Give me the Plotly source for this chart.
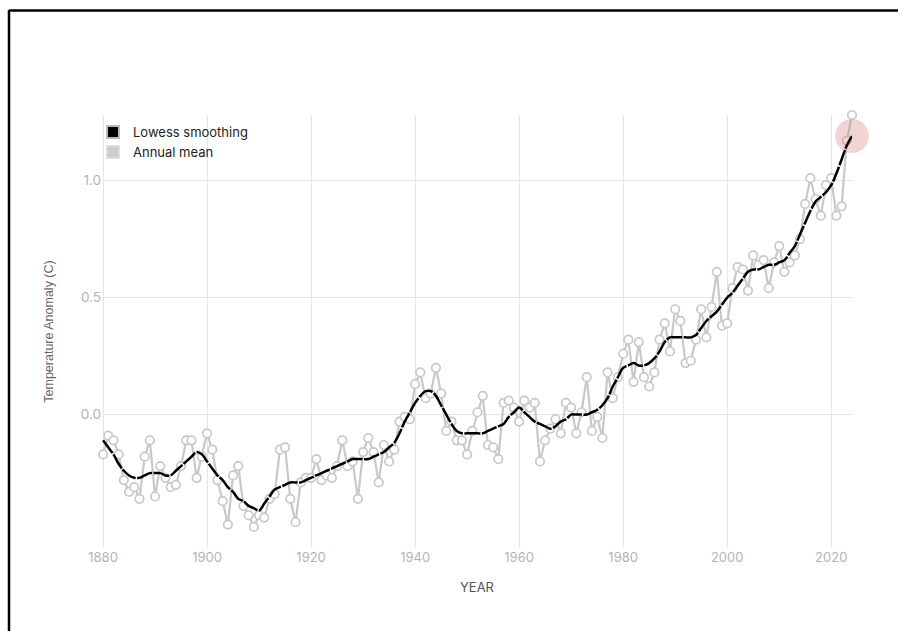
import plotly.graph_objects as go

# Global land-ocean temperature index (anomaly vs 1951-1980, deg C)
years = list(range(1880, 2025))

annual_mean = [
    -0.17, -0.09, -0.11, -0.17, -0.28, -0.33, -0.31, -0.36, -0.18, -0.11,
    -0.35, -0.22, -0.27, -0.31, -0.30, -0.22, -0.11, -0.11, -0.27, -0.18,
    -0.08, -0.15, -0.28, -0.37, -0.47, -0.26, -0.22, -0.39, -0.43, -0.48,
    -0.43, -0.44, -0.36, -0.34, -0.15, -0.14, -0.36, -0.46, -0.29, -0.27,
    -0.27, -0.19, -0.28, -0.26, -0.27, -0.22, -0.11, -0.22, -0.20, -0.36,
    -0.16, -0.10, -0.16, -0.29, -0.13, -0.20, -0.15, -0.03, -0.01, -0.02,
    0.13, 0.18, 0.07, 0.09, 0.20, 0.09, -0.07, -0.03, -0.11, -0.11,
    -0.17, -0.07, 0.01, 0.08, -0.13, -0.14, -0.19, 0.05, 0.06, 0.03,
    -0.03, 0.06, 0.03, 0.05, -0.20, -0.11, -0.06, -0.02, -0.08, 0.05,
    0.03, -0.08, 0.01, 0.16, -0.07, -0.01, -0.10, 0.18, 0.07, 0.16,
    0.26, 0.32, 0.14, 0.31, 0.16, 0.12, 0.18, 0.32, 0.39, 0.27,
    0.45, 0.40, 0.22, 0.23, 0.32, 0.45, 0.33, 0.46, 0.61, 0.38,
    0.39, 0.54, 0.63, 0.62, 0.53, 0.68, 0.64, 0.66, 0.54, 0.65,
    0.72, 0.61, 0.65, 0.68, 0.75, 0.90, 1.01, 0.92, 0.85, 0.98,
    1.01, 0.85, 0.89, 1.17, 1.28,
]

lowess = [
    -0.11, -0.14, -0.17, -0.21, -0.24, -0.26, -0.27, -0.27, -0.26, -0.25,
    -0.25, -0.25, -0.26, -0.26, -0.24, -0.22, -0.20, -0.18, -0.16, -0.17,
    -0.20, -0.23, -0.26, -0.28, -0.31, -0.33, -0.36, -0.37, -0.39, -0.40,
    -0.41, -0.38, -0.35, -0.32, -0.31, -0.30, -0.29, -0.29, -0.29, -0.28,
    -0.27, -0.26, -0.25, -0.24, -0.23, -0.22, -0.21, -0.20, -0.19, -0.19,
    -0.19, -0.19, -0.18, -0.17, -0.16, -0.14, -0.12, -0.08, -0.03, 0.01,
    0.05, 0.08, 0.10, 0.10, 0.08, 0.04, 0.00, -0.04, -0.07, -0.08,
    -0.08, -0.08, -0.08, -0.08, -0.07, -0.06, -0.05, -0.04, -0.01, 0.01,
    0.03, 0.01, -0.01, -0.03, -0.04, -0.05, -0.06, -0.05, -0.03, -0.02,
    0.00, 0.00, 0.00, 0.00, 0.01, 0.02, 0.04, 0.07, 0.12, 0.16,
    0.20, 0.21, 0.22, 0.21, 0.21, 0.22, 0.24, 0.27, 0.31, 0.33,
    0.33, 0.33, 0.33, 0.33, 0.34, 0.37, 0.40, 0.42, 0.44, 0.47,
    0.50, 0.52, 0.55, 0.58, 0.61, 0.62, 0.62, 0.63, 0.64, 0.64,
    0.65, 0.66, 0.69, 0.72, 0.77, 0.82, 0.87, 0.91, 0.93, 0.95,
    0.98, 1.03, 1.09, 1.15, 1.19,
]

x_ticks = [1880, 1900, 1920, 1940, 1960, 1980, 2000, 2020]
y_ticks = [0.0, 0.5, 1.0]
y_tick_labels = ["0.0", "0.5", "1.0"]

W, H = 898, 631
ML, MR, MT, MB = 102, 46, 115, 83
PW, PH = W - ML - MR, H - MT - MB

GRAY = "#c8c8c8"

fig = go.Figure()

# annual mean: grey line with open circles
fig.add_trace(go.Scatter(
    x=years, y=annual_mean, mode="lines+markers",
    line=dict(color=GRAY, width=2.2),
    marker=dict(symbol="circle", size=8.5, color="white",
                line=dict(color=GRAY, width=1.7)),
    cliponaxis=False, showlegend=False, hoverinfo="x+y",
))

# highlight on the latest smoothed value
fig.add_trace(go.Scatter(
    x=[years[-1]], y=[lowess[-1]], mode="markers",
    marker=dict(size=34, color="rgba(215,120,125,0.32)", line=dict(width=0)),
    cliponaxis=False, showlegend=False, hoverinfo="skip",
))

# lowess smoothing
fig.add_trace(go.Scatter(
    x=years, y=lowess, mode="lines",
    line=dict(color="black", width=2.5, dash="16px,1.5px", shape="spline"),
    cliponaxis=False, showlegend=False, hoverinfo="x+y",
))

# legend swatches
fig.add_trace(go.Scatter(
    x=[None], y=[None], mode="markers", name="Lowess smoothing",
    marker=dict(symbol="square", size=11, color="black",
                line=dict(color="#bbbbbb", width=1)),
))
fig.add_trace(go.Scatter(
    x=[None], y=[None], mode="markers", name="Annual mean",
    marker=dict(symbol="square", size=11, color="#cccccc",
                line=dict(color="#dddddd", width=1)),
))

def px_x(p):
    return (p - ML) / PW

def px_y(p):
    return (H - MB - p) / PH

# frame lines along the top and left edges
fig.add_shape(type="line", xref="paper", yref="paper",
              x0=px_x(9), x1=px_x(W + 5), y0=px_y(10.5), y1=px_y(10.5),
              line=dict(color="black", width=2.5))
fig.add_shape(type="line", xref="paper", yref="paper",
              x0=px_x(9), x1=px_x(9), y0=px_y(10), y1=px_y(H + 5),
              line=dict(color="black", width=2.5))

fig.update_layout(
    width=W, height=H,
    margin=dict(l=ML, r=MR, t=MT, b=MB, autoexpand=False),
    paper_bgcolor="white", plot_bgcolor="white",
    font=dict(family="Inter, Roboto, sans-serif", color="#222"),
    legend=dict(
        x=-0.012, y=0.995, xanchor="left", yanchor="top",
        bgcolor="rgba(255,255,255,0)", font=dict(size=13, color="#222"),
        itemsizing="constant", tracegroupgap=0,
    ),
    xaxis=dict(
        range=[1879.8, 2024.0], tickvals=x_ticks,
        showgrid=True, gridcolor="#e6e6e6", gridwidth=1,
        zeroline=False, showline=False, ticks="",
        tickfont=dict(size=13, color="#b4b4b4"),
        title=dict(text="YEAR", font=dict(size=13, color="#555"), standoff=18),
    ),
    yaxis=dict(
        range=[-0.57, 1.28], tickvals=y_ticks, ticktext=y_tick_labels,
        showgrid=True, gridcolor="#e6e6e6", gridwidth=1,
        zeroline=False, showline=False, ticks="",
        tickfont=dict(size=13.5, color="#b4b4b4"),
        title=dict(text="Temperature Anomaly (C)",
                   font=dict(size=12.5, color="#666",
                             family="Liberation Sans, Arial, sans-serif"),
                   standoff=24),
    ),
)

fig.write_html("out.html")
